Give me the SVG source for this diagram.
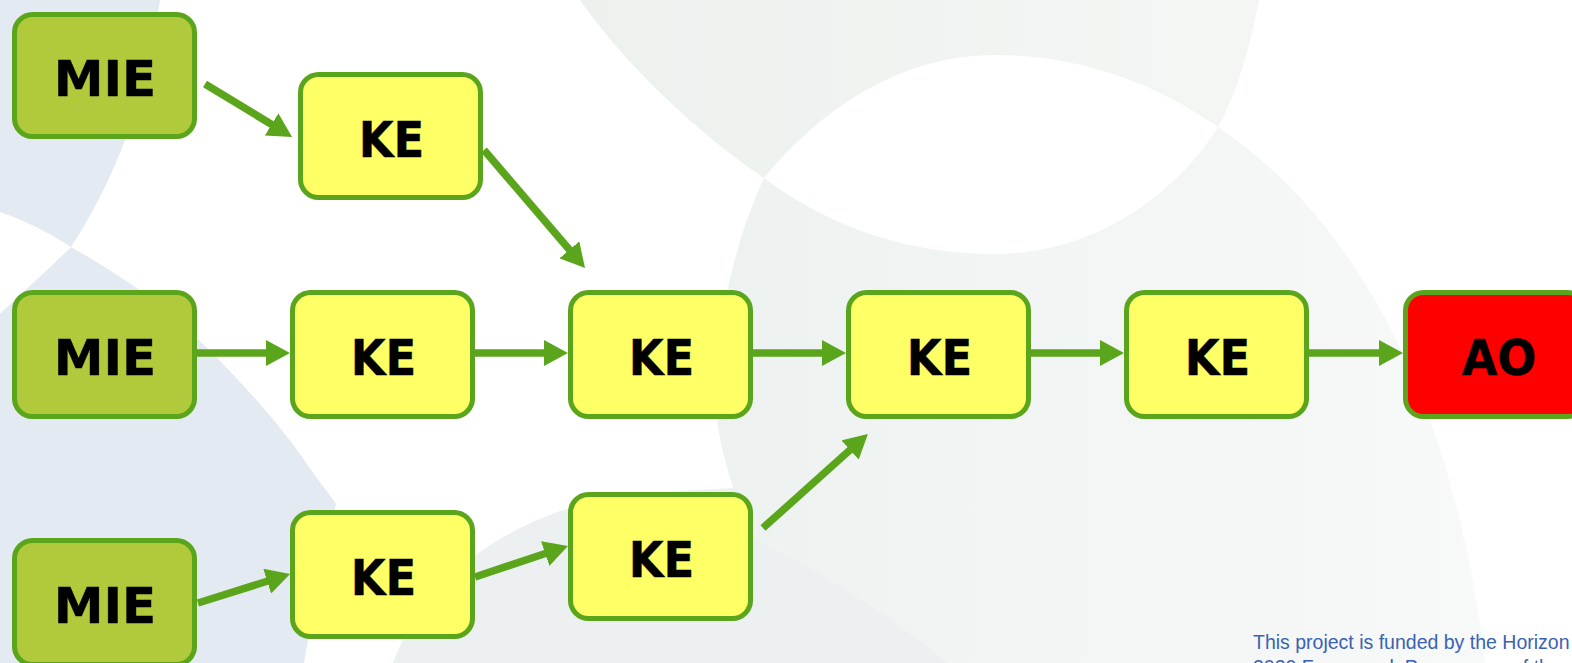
<svg xmlns="http://www.w3.org/2000/svg" width="1572" height="663" viewBox="0 0 1572 663">
  <defs>
    <style>
      .node rect { stroke: #5aa51b; stroke-width: 5; }
      .mie rect { fill: #b1ca3b; }
      .ke rect { fill: #ffff66; }
      .ao rect { fill: #ff0000; }
      .node text { font-family: "DejaVu Sans", Verdana, sans-serif; font-weight: bold; font-size: 50px; fill: #000; stroke: #000; stroke-width: 0.4; text-anchor: middle; }
      .edge { fill: none; stroke: #5aa51b; stroke-width: 7.5; marker-end: url(#head); }
      .footer { font-family: "Liberation Sans", Arial, sans-serif; font-size: 19.5px; fill: #3a62b2; }
      .tint-blue { fill: #e4eaf1; }
    </style>
    <marker id="head" markerUnits="userSpaceOnUse" markerWidth="26" markerHeight="26" refX="4" refY="13" orient="auto">
      <path d="M0,0 L24,13 L0,26 Z" fill="#5aa51b"/>
    </marker>
    <linearGradient id="upperTint" x1="0" y1="0" x2="1" y2="0">
      <stop offset="0" stop-color="#ecf1ee"/>
      <stop offset="1" stop-color="#f4f6f4"/>
    </linearGradient>
    <linearGradient id="lowerTint" x1="0" y1="0" x2="1" y2="0">
      <stop offset="0" stop-color="#edf2f0"/>
      <stop offset="0.6" stop-color="#f3f6f4"/>
      <stop offset="1" stop-color="#f8f9f9"/>
    </linearGradient>
  </defs>

  <!-- page background with soft swooshes -->
  <g id="background">
    <rect x="0" y="0" width="1572" height="663" fill="#ffffff"/>
    <path class="tint-blue" d="M0,0 L160,0 C150,70 128,160 71,247 C48,232 24,220 0,212 Z"/>
    <path class="tint-blue" d="M71,247 C120,275 165,305 200,341 C245,385 285,430 311,470 C322,485 330,495 336,504 C325,560 312,615 304,663 L0,663 L0,314 C25,290 50,268 71,247 Z"/>
    <path fill="url(#upperTint)" d="M580,0 L1259,0 C1250,48 1236,95 1218,127 C1150,80 1075,55 994,55 C900,55 820,110 764,178 C700,135 625,65 580,0 Z"/>
    <path fill="url(#lowerTint)" d="M764,178 C830,228 910,254 994,254 C1095,254 1175,195 1218,127 C1340,210 1450,370 1485,663 L948,663 C890,615 820,570 750,535 C725,470 712,420 716,380 C720,300 740,230 764,178 Z"/>
    <path fill="#ecf0f1" d="M393,663 C420,590 480,540 560,511 C620,495 680,490 735,488 C740,505 744,520 750,535 C820,570 890,615 948,663 Z"/>
  </g>

  <!-- connectors -->
  <g id="connectors">
    <path class="edge" d="M205,84 L275,126.5"/>
    <path class="edge" d="M484,150 L572,252.8"/>
    <path class="edge" d="M197,353 L270,353"/>
    <path class="edge" d="M475,353 L548,353"/>
    <path class="edge" d="M753,353 L826,353"/>
    <path class="edge" d="M1031,353 L1104,353"/>
    <path class="edge" d="M1309,353 L1383,353"/>
    <path class="edge" d="M198,603 L271,580"/>
    <path class="edge" d="M475,577 L549,552.3"/>
    <path class="edge" d="M763,528 L853,447.3"/>
  </g>

  <!-- nodes -->
  <g id="mie-1" class="node mie">
    <rect x="14.5" y="14.5" width="180" height="122" rx="18"/>
    <text x="105" y="96">MIE</text>
  </g>
  <g id="ke-top" class="node ke">
    <rect x="300.5" y="74.5" width="180" height="123" rx="18"/>
    <text transform="translate(391.5,157) scale(0.9,1)">KE</text>
  </g>
  <g id="mie-2" class="node mie">
    <rect x="14.5" y="292.5" width="180" height="124" rx="18"/>
    <text x="105" y="375">MIE</text>
  </g>
  <g id="ke-1" class="node ke">
    <rect x="292.5" y="292.5" width="180" height="124" rx="18"/>
    <text transform="translate(383.5,375) scale(0.9,1)">KE</text>
  </g>
  <g id="ke-2" class="node ke">
    <rect x="570.5" y="292.5" width="180" height="124" rx="18"/>
    <text transform="translate(661.5,375) scale(0.9,1)">KE</text>
  </g>
  <g id="ke-3" class="node ke">
    <rect x="848.5" y="292.5" width="180" height="124" rx="18"/>
    <text transform="translate(939.5,375) scale(0.9,1)">KE</text>
  </g>
  <g id="ke-4" class="node ke">
    <rect x="1126.5" y="292.5" width="180" height="124" rx="18"/>
    <text transform="translate(1217.5,375) scale(0.9,1)">KE</text>
  </g>
  <g id="ao" class="node ao">
    <rect x="1405.5" y="292.5" width="180" height="124" rx="18"/>
    <text transform="translate(1499,375) scale(0.92,1)">AO</text>
  </g>
  <g id="mie-3" class="node mie">
    <rect x="14.5" y="540.5" width="180" height="124" rx="18"/>
    <text x="105" y="623">MIE</text>
  </g>
  <g id="ke-5" class="node ke">
    <rect x="292.5" y="512.5" width="180" height="124" rx="18"/>
    <text transform="translate(383.5,595) scale(0.9,1)">KE</text>
  </g>
  <g id="ke-6" class="node ke">
    <rect x="570.5" y="494.5" width="180" height="124" rx="18"/>
    <text transform="translate(661.5,577) scale(0.9,1)">KE</text>
  </g>

  <!-- funding note -->
  <g id="footer">
    <text class="footer" x="1253" y="649">This project is funded by the Horizon</text>
    <text class="footer" x="1253" y="674">2020 Framework Programme of the</text>
  </g>
</svg>
